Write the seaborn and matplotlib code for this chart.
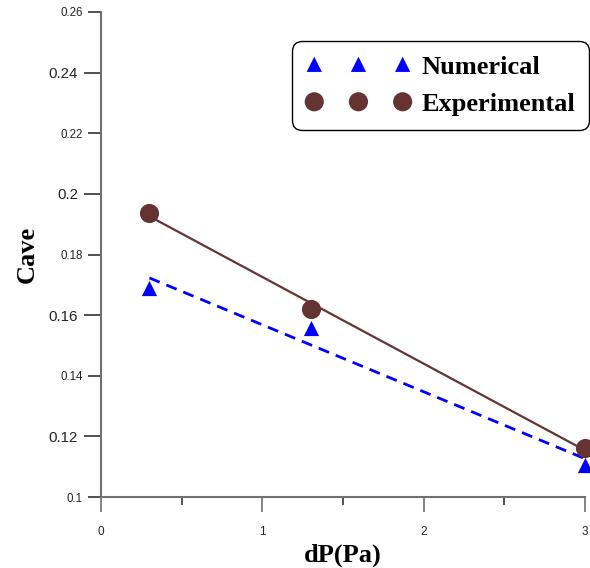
import matplotlib
matplotlib.use("Agg")
import matplotlib.pyplot as plt
import seaborn as sns
from matplotlib.ticker import MultipleLocator

# Pressure drop (Pa) and averaged concentration
dp_values = [0.3, 1.3, 3.0]
c_numerical = [0.1688, 0.1557, 0.1106]
c_experimental = [0.1938, 0.1621, 0.1161]

# value-axis ticks: large labels on the major ticks, small ones in between
y_major_ticks = [0.12, 0.16, 0.20, 0.24]
y_major_labels = ["0.12", "0.16", "0.2", "0.24"]
y_minor_ticks = [0.10, 0.14, 0.18, 0.22, 0.26]
y_minor_labels = ["0.1", "0.14", "0.18", "0.22", "0.26"]
x_ticks = [0, 1, 2, 3]
x_tick_labels = ["0", "1", "2", "3"]

sns.set_theme(style="ticks")
plt.rcParams["font.family"] = ["Liberation Sans", "DejaVu Sans"]

BROWN = "#663333"
BLUE = "#0000ff"
AXIS_GRAY = "#707070"

fig = plt.figure(figsize=(5.9, 5.68), dpi=100)
ax = fig.add_axes([101 / 590, 1 - 497 / 568, 484 / 590, 485 / 568])

sns.regplot(x=dp_values, y=c_numerical, ax=ax, ci=None, truncate=True,
            marker="^", label="Numerical",
            scatter_kws=dict(s=120, color=BLUE, alpha=1, linewidths=0,
                             zorder=3, clip_on=False),
            line_kws=dict(color=BLUE, lw=2.0, ls=(0, (4, 2.6)), zorder=2))
sns.regplot(x=dp_values, y=c_experimental, ax=ax, ci=None, truncate=True,
            marker="o", label="Experimental",
            scatter_kws=dict(s=190, color=BROWN, alpha=1, linewidths=0,
                             zorder=4, clip_on=False),
            line_kws=dict(color=BROWN, lw=1.6, zorder=2))

ax.set_xlim(0, 3)
ax.set_ylim(0.1, 0.26)

ax.set_yticks(y_major_ticks)
ax.set_yticklabels(y_major_labels, fontsize=10.8, color="#222222")
ax.set_yticks(y_minor_ticks, minor=True)
ax.set_yticklabels(y_minor_labels, minor=True, fontsize=8.3, color="#222222")

ax.set_xticks(x_ticks)
ax.set_xticklabels(x_tick_labels, fontsize=8.5, color="#222222")
ax.xaxis.set_minor_locator(MultipleLocator(0.5))

ax.tick_params(axis="y", which="major", length=12.2, width=1.2,
               color="#333333", pad=4.3)
ax.tick_params(axis="y", which="minor", length=9.4, width=1.2,
               color="#333333", pad=3.6)
ax.tick_params(axis="x", which="major", length=11, width=1.2,
               color=AXIS_GRAY, pad=10)
ax.tick_params(axis="x", which="minor", length=6, width=1.2, color="#333333")

sns.despine(ax=ax)
for side in ("left", "bottom"):
    ax.spines[side].set_color(AXIS_GRAY)
    ax.spines[side].set_linewidth(1.5)

serif_bold = dict(family="Liberation Serif", fontweight="bold", color="black")
ax.set_xlabel("dP(Pa)", fontsize=19, labelpad=4, **serif_bold)
ax.set_ylabel("Cave", fontsize=19, labelpad=7, **serif_bold)

leg = ax.legend(loc="upper right", bbox_to_anchor=(1.008, 0.94),
                scatterpoints=3, scatteryoffsets=[0.5], handlelength=3.95,
                handletextpad=0.4, borderpad=0.53, labelspacing=0.53,
                borderaxespad=0, fancybox=True, framealpha=1,
                prop=dict(family="Liberation Serif", weight="bold", size=19))
leg.get_frame().set_edgecolor("black")
leg.get_frame().set_linewidth(1.0)
leg.get_frame().set_boxstyle("round", pad=0, rounding_size=0.38)
for txt in leg.get_texts():
    txt.set_color("black")

fig.savefig("out.png", dpi=100)
